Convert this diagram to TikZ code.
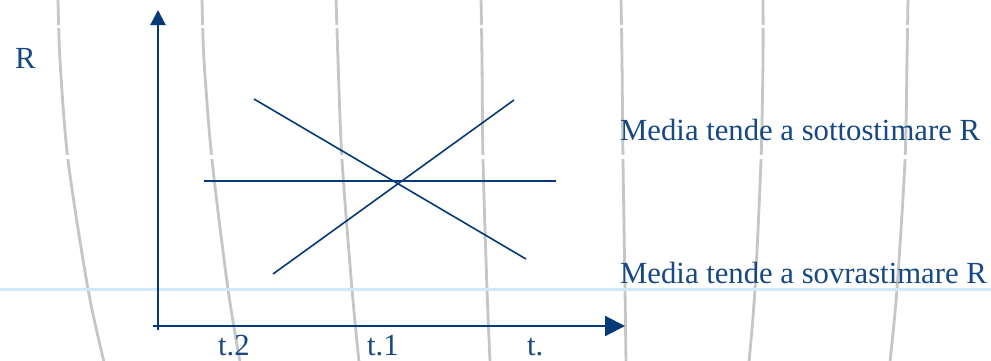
\documentclass[tikz,border=0pt]{standalone}
\usepackage{fontspec}
\setmainfont{Liberation Serif}
\usetikzlibrary{arrows.meta}
\definecolor{axisblue}{RGB}{4,58,118}
\definecolor{textblue}{RGB}{22,72,132}
\definecolor{decogray}{RGB}{198,198,198}
\definecolor{lightline}{RGB}{205,233,250}
\tikzset{
  deco/.style={draw=decogray,line width=2.8pt},
  gapband/.style={fill=white,draw=none},
  axisline/.style={draw=axisblue,line width=2.2pt},
  trendline/.style={draw=axisblue,line width=1.6pt},
  label/.style={text=textblue,font=\fontsize{30.7}{36}\selectfont,inner sep=0pt,anchor=base west},
}
\begin{document}
\begin{tikzpicture}[x=1pt,y=-1pt]
\useasboundingbox (0,0) rectangle (991,360);
\fill[white] (0,0) rectangle (991,360);
% background decorative curves
\draw[deco] plot[smooth] coordinates {(58,-2) (60,60) (68,160) (88,289) (104,362)};
\draw[deco] plot[smooth] coordinates {(202,-2) (204,60) (212,160) (228,289) (240,362)};
\draw[deco] plot[smooth] coordinates {(336,-2) (338,60) (342,160) (352,289) (359,362)};
\draw[deco] plot[smooth] coordinates {(481,-2) (482,60) (483,160) (487,289) (490,362)};
\draw[deco] plot[smooth] coordinates {(621,-2) (622,60) (623,160) (625,289) (626,362)};
\draw[deco] plot[smooth] coordinates {(763,-2) (763,60) (761,160) (755,289) (749,362)};
\draw[deco] plot[smooth] coordinates {(908,-2) (907,60) (905,160) (897,289) (890,362)};
\fill[gapband] (0,24.5) rectangle (991,28.3);
\fill[gapband] (0,155) rectangle (991,159.3);
% light blue horizontal line
\coordinate (bl) at (0,289);
\coordinate (br) at (991,289);
\draw[draw=lightline,line width=3pt] (bl) -- (br);
% axes
\coordinate (yb) at (158,330);
\coordinate (yt) at (158,10);
\coordinate (xl) at (153,326);
\coordinate (xr) at (625,326);
\draw[axisline,-{Triangle[length=15pt,width=15pt]}] (yb) -- (yt);
\draw[axisline,-{Triangle[length=20pt,width=20pt]}] (xl) -- (xr);
% trend lines
\coordinate (d1) at (254,99);
\coordinate (d2) at (526,259);
\coordinate (a1) at (273,274);
\coordinate (a2) at (514,100);
\coordinate (h1) at (204,181);
\coordinate (h2) at (556,181);
\draw[trendline] (d1) -- (d2);
\draw[trendline] (a1) -- (a2);
\draw[trendline] (h1) -- (h2);
% labels
\node[label] (r) at (15,68) {R};
\node[label] (sotto) at (620,140) {Media tende a sottostimare R};
\node[label] (sovra) at (620,283) {Media tende a sovrastimare R};
\node[label] (t2) at (218,355) {t.2};
\node[label] (t1) at (367,355) {t.1};
\node[label] (t0) at (527,355) {t.};
\end{tikzpicture}
\end{document}
